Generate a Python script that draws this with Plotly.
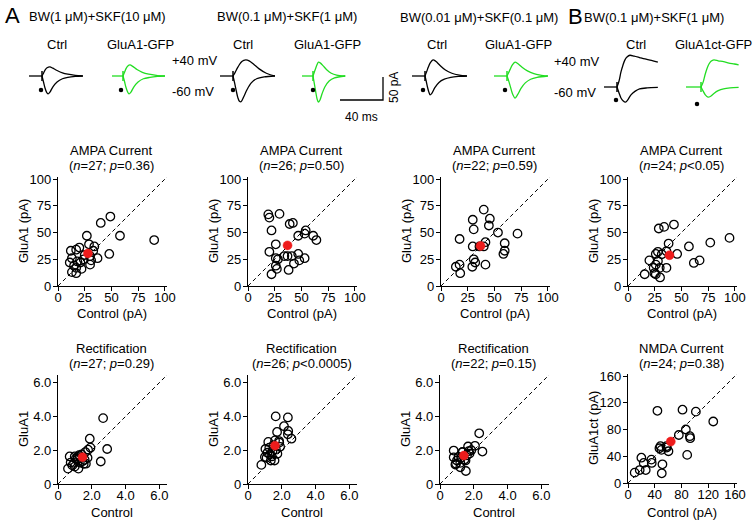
import plotly.graph_objects as go

W, H = 754, 520
FONT = "Arial, 'Liberation Sans', Helvetica, sans-serif"
GREEN = "#22dd22"

# ---------------- scatter data (Control vs GluA1) ----------------
p1_ctrl = [40, 49, 58, 90, 27, 48, 29, 34, 33, 37, 30, 30, 12, 17, 20, 13, 11, 18, 21, 22, 17, 17, 13, 31, 25, 15, 24]
p1_glu = [59, 65, 47, 43, 47, 30, 39, 37, 33, 26, 28, 20, 33, 34, 36, 26, 22, 23, 22, 16, 17, 12, 13, 24, 29, 19, 25]
p1_mean = [28, 30.5]

p2_ctrl = [19, 20, 29.5, 39, 42, 22, 54, 53, 47, 61, 64, 26, 20, 26, 28, 34, 37, 41, 47, 48, 53, 43, 26, 27, 38, 22]
p2_glu = [67, 64, 67.5, 58, 59, 52, 52, 49, 47, 47, 43, 39, 32, 26, 25, 28, 28, 28, 30, 24, 26, 21, 19, 16, 15, 11]
p2_mean = [37, 38]

p3_ctrl = [40, 29.7, 45.7, 44.8, 30.6, 53.3, 71.6, 17.4, 29.7, 41.6, 40, 59.6, 59.6, 58.4, 30.6, 32, 29.3, 41.6, 13.9, 17.4, 18, 36]
p3_glu = [71.5, 62, 63, 56.6, 53, 50, 49, 44, 37, 41, 37, 40, 33, 30, 25, 22, 18, 20, 18, 20, 12, 37]
p3_mean = [37, 37.5]

p4_ctrl = [28.8, 33.8, 43, 38, 57, 77, 95, 20, 26, 28, 31.6, 36, 46, 28, 26, 24, 29.7, 36, 24.7, 26, 30, 15.6, 61.6, 67]
p4_glu = [53.8, 55.3, 57.5, 39.7, 37, 40.6, 45, 24, 30, 32, 29.7, 32.5, 30, 23.4, 20, 17, 17, 17, 12, 11, 8, 11, 21.6, 24]
p4_mean = [38.8, 28.8]

p5_ctrl = [2.67, 1.88, 2.91, 1.92, 1.78, 2.53, 1.62, 0.69, 0.99, 1.25, 0.75, 0.59, 0.99, 1.29, 1.21, 1.52, 1.58, 1.13, 0.85, 1.05, 1.40, 1.75, 1.30, 0.95, 1.15, 1.65, 1.45]
p5_glu = [3.9, 2.68, 2.07, 2.15, 2.03, 1.33, 1.89, 1.63, 1.63, 1.71, 1.27, 0.91, 1.03, 1.27, 0.91, 1.19, 1.43, 1.43, 1.1, 1.5, 1.75, 1.55, 1.65, 1.25, 1.6, 1.2, 1.35]
p5_mean = [1.45, 1.59]

p6_ctrl = [1.64, 2.36, 2.13, 1.72, 2.38, 2.36, 2.57, 1.84, 1.6, 1.2, 1.03, 1.26, 1.1, 1.41, 1.74, 1.35, 1.57, 0.79, 1.45, 1.3, 1.9, 1.5, 1.15, 1.65, 1.0, 1.85]
p6_glu = [4.0, 3.94, 3.42, 3.08, 3.14, 2.94, 2.68, 2.54, 2.58, 2.49, 2.07, 2.15, 1.55, 1.63, 1.79, 1.39, 1.39, 1.13, 1.95, 1.75, 2.2, 2.3, 1.85, 2.05, 1.6, 2.45]
p6_mean = [1.6, 2.27]

p7_ctrl = [2.32, 2.51, 2.07, 1.66, 1.7, 0.81, 1.32, 0.81, 1.0, 0.91, 1.2, 1.53, 1.51, 1.1, 1.6, 1.85, 1.2, 1.45, 0.95, 1.35, 1.75, 1.25]
p7_glu = [3.0, 1.92, 2.26, 2.22, 1.94, 1.98, 1.88, 1.58, 1.39, 1.15, 0.99, 0.77, 1.39, 1.6, 1.7, 2.0, 1.25, 1.45, 1.2, 1.9, 1.8, 1.55]
p7_mean = [1.41, 1.68]

p8_ctrl = [44, 81.5, 101.5, 127.5, 86.5, 76, 92.5, 93, 88.5, 48.5, 57.5, 50, 60.5, 35, 35.5, 20, 23.5, 26.5, 17.5, 10, 51.5, 50.5, 47, 58]
p8_glu = [108, 109.6, 106.7, 92, 80, 71.8, 70, 67, 42, 55, 55, 49.5, 47.5, 35, 30, 37.8, 30, 19.4, 19.4, 15.5, 28, 14.5, 52, 53]
p8_mean = [64, 62]

amp_ticks = [0, 25, 50, 75, 100]
rect_ticks = [0, 2, 4, 6]
rect_ticktext = ["0", "2.0", "4.0", "6.0"]
nmda_ticks = [0, 40, 80, 120, 160]

# ---------------- example current traces (ms, pA) ----------------
a1c_t_up = [0, 1.4, 2.8, 4.7, 7.4, 10, 14, 19, 24, 31, 38]
a1c_i_up = [0, 6, 13, 18, 20, 17, 12, 7, 4, 1.5, 0]
a1c_t_dn = [0, 1.4, 2.8, 4.2, 5.6, 7.4, 10, 14, 19, 24, 31, 38]
a1c_i_dn = [0, -13, -26, -35, -39, -35, -24, -13, -6, -3, -1, 0]

a1g_t_up = [0, 1.4, 2.8, 4.5, 6.5, 9, 13, 18, 24, 31, 39]
a1g_i_up = [0, 8, 16, 22, 24, 21, 14, 8, 4, 1.5, 0]
a1g_t_dn = [0, 1.4, 2.8, 4.2, 5.6, 7.4, 10, 14, 19, 25, 32, 39]
a1g_i_dn = [0, -12, -25, -34, -39, -35, -24, -13, -6, -3, -1, 0]

a2c_t_up = [0, 2, 4, 6, 8, 10, 12, 15, 19, 24, 31, 39]
a2c_i_up = [0, 8, 17, 25, 31, 34, 35, 33, 26, 16, 6, 0]
a2c_t_dn = [0, 1.5, 3, 4.5, 6, 7.5, 10, 13, 17, 22, 29, 39]
a2c_i_dn = [0, -15, -32, -47, -55, -56, -45, -30, -15, -6, -2, 0]

a2g_t_up = [0, 1.2, 2.5, 3.8, 5, 7, 9.5, 13, 17, 22, 30]
a2g_i_up = [0, 8, 17, 25, 30, 28, 22, 13, 6, 2, 0]
a2g_t_dn = [0, 1.2, 2.5, 3.8, 5, 6.5, 8.5, 11, 15, 20, 30]
a2g_i_dn = [0, -16, -34, -50, -57, -52, -38, -24, -11, -4, 0]

a3c_t_up = [0, 1.5, 3, 5, 7.5, 10, 14, 19, 25, 32, 39]
a3c_i_up = [0, 9, 19, 29, 35, 32, 23, 13, 6, 2, 0]
a3c_t_dn = [0, 1.2, 2.4, 3.6, 4.7, 6.5, 9, 13, 18, 24, 31, 39]
a3c_i_dn = [0, -12, -25, -35, -41, -37, -26, -14, -7, -3, -1, 0]

a3g_t_up = [0, 1.5, 3, 5, 7.5, 10, 14, 19, 25, 31, 38]
a3g_i_up = [0, 7, 15, 24, 30, 27, 19, 11, 5, 2, 0]
a3g_t_dn = [0, 1.5, 3, 5, 7.5, 10, 13, 17, 22, 28, 38]
a3g_i_dn = [0, -10, -22, -38, -48, -40, -27, -15, -7, -3, 0]

bc_t_up = [0, 1.9, 3.7, 5.6, 7.4, 9.3, 12, 16, 21, 26, 32, 38]
bc_i_up = [0, 13, 33, 48, 59, 65, 69, 67, 64, 61, 58, 54]
bc_t_dn = [0, 1.9, 3.7, 5.6, 7.9, 10, 13, 17, 21, 28, 38]
bc_i_dn = [0, -13, -24, -30, -33, -28, -17, -9, -4, -2, -1]

bg_t_up = [0, 1.9, 3.7, 5.6, 7.4, 9.3, 12, 16, 21, 26, 31, 35]
bg_i_up = [0, 10, 26, 40, 50, 56, 59, 57, 55, 52, 50, 48]
bg_t_dn = [0, 2, 4, 6.5, 9, 12, 16, 21, 27, 35]
bg_i_dn = [0, -9, -17, -22, -20, -14, -8, -4, -2, -1]

scale_ms = 40
scale_pa = 50

# ---------------- figure ----------------
fig = go.Figure()
annotations = []


def ann(text, px, py, size=13, xanchor="center", yanchor="middle", angle=0, color="black"):
    annotations.append(dict(text=text, x=px / W, y=1 - py / H, xref="paper", yref="paper",
                            xanchor=xanchor, yanchor=yanchor, showarrow=False, textangle=angle,
                            font=dict(family=FONT, size=size, color=color)))


L = 109  # axis length in px
panels = [
    dict(c=p1_ctrl, g=p1_glu, m=p1_mean, rng=102, x0=58, y0=286, tv=amp_ticks, tt=None,
         t1="AMPA Current", t2="(<i>n</i>=27; <i>p</i>=0.36)", xl="Control (pA)", yl="GluA1 (pA)"),
    dict(c=p2_ctrl, g=p2_glu, m=p2_mean, rng=102, x0=248, y0=286, tv=amp_ticks, tt=None,
         t1="AMPA Current", t2="(<i>n</i>=26; <i>p</i>=0.50)", xl="Control (pA)", yl="GluA1 (pA)"),
    dict(c=p3_ctrl, g=p3_glu, m=p3_mean, rng=102, x0=441, y0=286, tv=amp_ticks, tt=None,
         t1="AMPA Current", t2="(<i>n</i>=22; <i>p</i>=0.59)", xl="Control (pA)", yl="GluA1 (pA)"),
    dict(c=p4_ctrl, g=p4_glu, m=p4_mean, rng=102, x0=628, y0=286, tv=amp_ticks, tt=None,
         t1="AMPA Current", t2="(<i>n</i>=24; <i>p</i><0.05)", xl="Control (pA)", yl="GluA1 (pA)"),
    dict(c=p5_ctrl, g=p5_glu, m=p5_mean, rng=6.45, x0=58, y0=484, tv=rect_ticks, tt=rect_ticktext,
         t1="Rectification", t2="(<i>n</i>=27; <i>p</i>=0.29)", xl="Control", yl="GluA1"),
    dict(c=p6_ctrl, g=p6_glu, m=p6_mean, rng=6.45, x0=248, y0=484, tv=rect_ticks, tt=rect_ticktext,
         t1="Rectification", t2="(<i>n</i>=26; <i>p</i><0.0005)", xl="Control", yl="GluA1"),
    dict(c=p7_ctrl, g=p7_glu, m=p7_mean, rng=6.45, x0=440, y0=484, tv=rect_ticks, tt=rect_ticktext,
         t1="Rectification", t2="(<i>n</i>=22; <i>p</i>=0.15)", xl="Control", yl="GluA1"),
    dict(c=p8_ctrl, g=p8_glu, m=p8_mean, rng=163, x0=628, y0=483, tv=nmda_ticks, tt=None,
         t1="NMDA Current", t2="(<i>n</i>=24; <i>p</i>=0.38)", xl="Control (pA)", yl="GluA1ct (pA)"),
]

layout_axes = {}
for i, p in enumerate(panels, start=1):
    xa = "x" if i == 1 else f"x{i}"
    ya = "y" if i == 1 else f"y{i}"
    common = dict(showline=True, linecolor="black", linewidth=1.2, ticks="outside", ticklen=4,
                  tickwidth=1.2, tickcolor="black", showgrid=False, zeroline=False,
                  tickfont=dict(family=FONT, size=13, color="black"), fixedrange=True,
                  range=[0, p["rng"]], tickvals=p["tv"], automargin=False)
    if p["tt"] is not None:
        common["ticktext"] = p["tt"]
    xd = dict(common, domain=[p["x0"] / W, (p["x0"] + L) / W], anchor=ya, ticklabelstandoff=-5)
    yd = dict(common, domain=[1 - p["y0"] / H, 1 - (p["y0"] - L) / H], anchor=xa,
              ticklabelstandoff=-1)
    layout_axes["xaxis" if i == 1 else f"xaxis{i}"] = xd
    layout_axes["yaxis" if i == 1 else f"yaxis{i}"] = yd

    fig.add_trace(go.Scatter(x=[0, p["rng"]], y=[0, p["rng"]], mode="lines", xaxis=xa, yaxis=ya,
                             line=dict(color="black", width=1, dash="4px,3px"), hoverinfo="skip",
                             showlegend=False, cliponaxis=False))
    fig.add_trace(go.Scatter(x=p["c"], y=p["g"], mode="markers", xaxis=xa, yaxis=ya,
                             marker=dict(symbol="circle", size=8.5, color="rgba(255,255,255,0)",
                                         line=dict(color="black", width=1.3)),
                             showlegend=False, cliponaxis=False))
    fig.add_trace(go.Scatter(x=[p["m"][0]], y=[p["m"][1]], mode="markers", xaxis=xa, yaxis=ya,
                             marker=dict(symbol="circle", size=9, color="#ee1c1c",
                                         line=dict(color="#ee1c1c", width=0.5)),
                             showlegend=False, cliponaxis=False))

    cx = p["x0"] + L / 2 - 1
    if p["y0"] < 300:
        ty1, ty2, txl = 150, 165, 313
    else:
        ty1, ty2, txl = 348, 363, 512
    ann(p["t1"], cx, ty1)
    ann(p["t2"], cx, ty2)
    ann(p["xl"], cx, txl)
    ann(p["yl"], p["x0"] - 35, p["y0"] - 55, angle=-90)

# ---------------- trace axis (ms / pA) ----------------
PX_PER_MS = 43 / 40
PX_PER_PA = 23 / 50
layout_axes["xaxis9"] = dict(domain=[0, 1], range=[0, W / PX_PER_MS], visible=False,
                             fixedrange=True, anchor="y9", automargin=False)
layout_axes["yaxis9"] = dict(domain=[0, 1], range=[0, H / PX_PER_PA], visible=False,
                             fixedrange=True, anchor="x9", automargin=False)


def to_ms(px):
    return px / PX_PER_MS


def to_pa(py):
    return (H - py) / PX_PER_PA


def add_line(xs, ys, color, width=1.3, shape="spline"):
    fig.add_trace(go.Scatter(x=xs, y=ys, mode="lines", xaxis="x9", yaxis="y9",
                             line=dict(color=color, width=width, shape=shape, smoothing=0.8),
                             hoverinfo="skip", showlegend=False, cliponaxis=False))


traces = [
    (a1c_t_up, a1c_i_up, a1c_t_dn, a1c_i_dn, 42, 76, 13, "black", (41, 90)),
    (a1g_t_up, a1g_i_up, a1g_t_dn, a1g_i_dn, 123, 76, 11, GREEN, (121, 90)),
    (a2c_t_up, a2c_i_up, a2c_t_dn, a2c_i_dn, 233, 76, 13, "black", (233, 90)),
    (a2g_t_up, a2g_i_up, a2g_t_dn, a2g_i_dn, 313, 76, 11, GREEN, (313, 90)),
    (a3c_t_up, a3c_i_up, a3c_t_dn, a3c_i_dn, 425, 76, 13, "black", (423, 90)),
    (a3g_t_up, a3g_i_up, a3g_t_dn, a3g_i_dn, 507, 76, 13, GREEN, (505, 90)),
    (bc_t_up, bc_i_up, bc_t_dn, bc_i_dn, 617, 87, 13, "black", (616, 100)),
    (bg_t_up, bg_i_up, bg_t_dn, bg_i_dn, 701, 87, 15, GREEN, (697, 104)),
]
for tu, iu, td, idn, px, py, pre, col, dot in traces:
    t0, i0 = to_ms(px), to_pa(py)
    add_line([t0 - to_ms(pre), t0], [i0, i0], col, shape="linear")
    add_line([t0 + t for t in tu], [i0 + v for v in iu], col)
    add_line([t0 + t for t in td], [i0 + v for v in idn], col)
    add_line([t0, t0], [i0 - 11, i0 + 11], col, width=1.5, shape="linear")
    fig.add_trace(go.Scatter(x=[to_ms(dot[0])], y=[to_pa(dot[1])], mode="markers", xaxis="x9",
                             yaxis="y9", marker=dict(color="black", size=4.5), hoverinfo="skip",
                             showlegend=False, cliponaxis=False))

# scale bar
sx, sy = to_ms(340), to_pa(100)
add_line([sx, sx + scale_ms, sx + scale_ms], [sy, sy, sy + scale_pa], "black", width=1.3, shape="linear")
ann("40 ms", 361, 117, size=12)
ann("50 pA", 394, 88, size=12, angle=-90)

# header texts
ann("A", 3, 15, size=22, xanchor="left")
ann("B", 566, 17, size=22, xanchor="left")
ann("BW(1 μM)+SKF(10 μM)", 27, 17, size=13, xanchor="left")
ann("BW(0.1 μM)+SKF(1 μM)", 215, 17, size=13, xanchor="left")
ann("BW(0.01 μM)+SKF(0.1 μM)", 398, 18, size=13, xanchor="left")
ann("BW(0.1 μM)+SKF(1 μM)", 582, 18, size=13, xanchor="left")
for txt, cx in [("Ctrl", 57), ("GluA1-GFP", 140), ("Ctrl", 243), ("GluA1-GFP", 327),
                ("Ctrl", 437), ("GluA1-GFP", 518), ("Ctrl", 636), ("GluA1ct-GFP", 713)]:
    ann(txt, cx, 44, size=13)
ann("+40 mV", 170, 60, size=13, xanchor="left")
ann("-60 mV", 170, 91, size=13, xanchor="left")
ann("+40 mV", 552, 61, size=13, xanchor="left")
ann("-60 mV", 552, 92, size=13, xanchor="left")

fig.update_layout(width=W, height=H, margin=dict(l=0, r=0, t=0, b=0, pad=0, autoexpand=False),
                  paper_bgcolor="white",
                  plot_bgcolor="rgba(0,0,0,0)", showlegend=False, annotations=annotations,
                  font=dict(family=FONT, color="black"), **layout_axes)

fig.write_html("out.html", config={"displayModeBar": False},
               post_script="document.body.style.margin='0';document.body.style.padding='0';"
                           "document.documentElement.style.overflow='hidden';")
